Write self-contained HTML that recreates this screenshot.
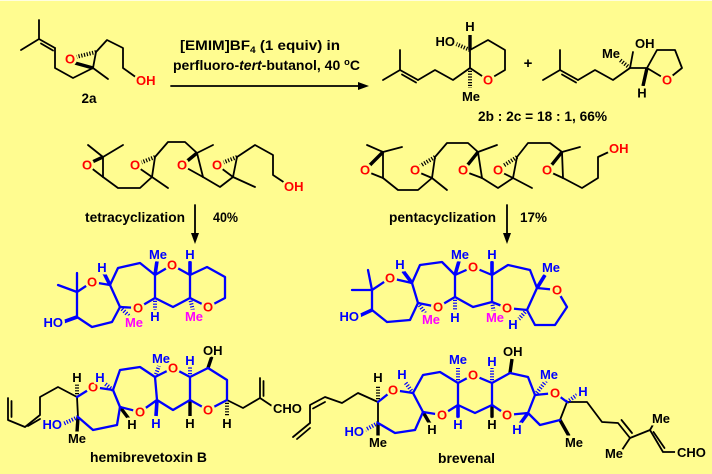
<!DOCTYPE html>
<html>
<head>
<meta charset="utf-8">
<style>
html,body{margin:0;padding:0;background:#fffc90;}
svg{display:block;}
.t{font-family:"Liberation Sans",Arial,sans-serif;font-weight:bold;}
.l{font-family:"Liberation Sans",Arial,sans-serif;font-weight:bold;font-size:13px;paint-order:stroke;stroke:#fffc90;stroke-width:5px;stroke-linejoin:round;text-anchor:middle;}
.r{fill:#ff0000;}
.b{fill:#0000ff;}
.k{fill:#000;}
.m{fill:#ff00ff;}
</style>
</head>
<body>
<svg width="712" height="474" viewBox="0 0 712 474" xmlns="http://www.w3.org/2000/svg">
<rect width="712" height="474" fill="#fffc90"/>
<rect width="712" height="1" fill="#fffee0"/>

<!-- ================= BLACK BONDS ================= -->
<g stroke="#000" stroke-width="1.8" fill="none" stroke-linecap="round" stroke-linejoin="round">
  <!-- 2a -->
  <polyline points="39,20 39,39 21,50"/>
  <line x1="39" y1="39" x2="55" y2="48"/>
  <line x1="41" y1="43.5" x2="53" y2="50.5"/>
  <polyline points="55,48 55,68 73,78 93,68 108,79"/>
  <line x1="93" y1="68" x2="96" y2="52"/>
  <polyline points="96,52 107,40 123,48 123,68 137,78"/>
  <line x1="74" y1="62" x2="93" y2="68"/>
  <!-- arrow -->
  <line x1="171" y1="86" x2="360" y2="86"/>
  <!-- 2b -->
  <polyline points="383,80 400,70 400,50"/>
  <line x1="400" y1="70" x2="418" y2="80"/>
  <line x1="402" y1="74.5" x2="416" y2="82.5"/>
  <polyline points="418,80 435,70 453,80 470,68"/>
  <polyline points="470,68 470,50 488,40 505,50 505,70 488,80 470,68"/>
  <!-- 2c -->
  <polyline points="543,80 560,70 560,50"/>
  <line x1="560" y1="70" x2="578" y2="80"/>
  <line x1="562" y1="74.5" x2="576" y2="82.5"/>
  <polyline points="578,80 595,70 613,80 630,68 647,68"/>
  <line x1="630" y1="68" x2="633" y2="52"/>
  <polyline points="647,68 657,50 675,50 682,68 667,80 647,68"/>
  <!-- tetra substrate -->
  <polyline points="88,145 103,157 123,145"/>
  <line x1="103" y1="157" x2="103" y2="177"/>
  <line x1="90" y1="167" x2="103" y2="177"/>
  <polyline points="103,177 118,188 140,188 152,177 168,188"/>
  <line x1="152" y1="177" x2="155" y2="157"/>
  <line x1="139" y1="168" x2="152" y2="177"/>
  <polyline points="155,157 168,142 185,142 197,153 213,145"/>
  <line x1="197" y1="153" x2="203" y2="177"/>
  <line x1="185" y1="167" x2="203" y2="177"/>
  <polyline points="203,177 220,187 233,177 255,187"/>
  <line x1="233" y1="177" x2="237" y2="157"/>
  <line x1="221" y1="168" x2="233" y2="177"/>
  <polyline points="237,157 255,145 273,155 273,175 285,183"/>
  <line x1="195" y1="205" x2="195" y2="236"/>
  <!-- penta substrate -->
  <polyline points="367,145 383,152 402,147"/>
  <line x1="383" y1="152" x2="383" y2="178"/>
  <line x1="368" y1="172" x2="383" y2="178"/>
  <polyline points="383,178 398,190 418,190 432,178 447,190"/>
  <line x1="432" y1="178" x2="435" y2="157"/>
  <line x1="418" y1="172" x2="432" y2="178"/>
  <polyline points="435,157 447,143 468,143 478,152 497,145"/>
  <line x1="478" y1="152" x2="482" y2="178"/>
  <line x1="466" y1="172" x2="482" y2="178"/>
  <polyline points="482,178 498,188 513,178 532,188"/>
  <line x1="513" y1="178" x2="517" y2="157"/>
  <line x1="501" y1="172" x2="513" y2="178"/>
  <polyline points="517,157 528,143 550,143 562,152 580,147"/>
  <line x1="562" y1="152" x2="563" y2="178"/>
  <line x1="550" y1="172" x2="563" y2="178"/>
  <polyline points="563,178 582,188 598,178 598,157 613,150"/>
  <line x1="507" y1="205" x2="507" y2="236"/>
  <!-- hemibrevetoxin side chains -->
  <polyline points="8,398 8,420 25,427 40,415 40,397 58,387 77,397"/>
  <line x1="11.5" y1="401" x2="11.5" y2="417"/>
  <line x1="28" y1="426" x2="40" y2="419"/>
  <line x1="78" y1="417" x2="77" y2="397"/>
  <polyline points="227,400 243,408 260,398 272,406"/>
  <line x1="260" y1="398" x2="260" y2="378"/>
  <line x1="263.5" y1="381" x2="263.5" y2="396"/>
  <!-- brevenal side chains -->
  <line x1="293" y1="437" x2="310" y2="423"/>
  <line x1="297" y1="439" x2="310" y2="428"/>
  <polyline points="310,423 310,405 325,397 342,403 358,393 378,402"/>
  <line x1="313" y1="408.5" x2="325" y2="402"/>
  <line x1="378" y1="402" x2="378" y2="423"/>
  <line x1="567" y1="402" x2="560" y2="420"/>
  <polyline points="567,402 587,402 602,422 618,423 630,438 650,430 663,452 675,452"/>
  <line x1="621.5" y1="420" x2="632" y2="433"/>
  <line x1="653.5" y1="432" x2="664.5" y2="448"/>
  <line x1="630" y1="438" x2="622" y2="450"/>
  <line x1="650" y1="430" x2="654" y2="423"/>
</g>

<!-- arrowheads -->
<g fill="#000">
  <polygon points="369,86 358,82 358,90"/>
  <polygon points="195,244 191,233 199,233"/>
  <polygon points="507,244 503,233 511,233"/>
</g>

<!-- black wedges (thick) -->
<g stroke="#000" stroke-width="3.4" stroke-linecap="butt" fill="none">
  <line x1="75" y1="63" x2="93" y2="68"/>
  <line x1="470" y1="50" x2="470" y2="35"/>
  <line x1="647" y1="68" x2="643" y2="86"/>
  <line x1="90" y1="163" x2="103" y2="157"/>
  <line x1="186" y1="162" x2="197" y2="153"/>
  <line x1="368" y1="167" x2="383" y2="152"/>
  <line x1="466" y1="167" x2="478" y2="152"/>
  <line x1="550" y1="167" x2="562" y2="152"/>
  <!-- hemibrevetoxin -->
  <line x1="208" y1="368" x2="212" y2="356"/>
  <line x1="190" y1="400" x2="190" y2="416"/>
  <line x1="120" y1="407" x2="129" y2="419"/>
  <line x1="78" y1="417" x2="77" y2="432"/>
  <!-- brevenal -->
  <line x1="510" y1="373" x2="512" y2="359"/>
  <line x1="492" y1="405" x2="492" y2="420"/>
  <line x1="423" y1="412" x2="430" y2="424"/>
  <line x1="378" y1="423" x2="378" y2="437"/>
  <line x1="560" y1="420" x2="569" y2="436"/>
</g>

<!-- black hashes -->
<g stroke="#000" stroke-width="4" stroke-dasharray="1.2 1.6" fill="none">
  <line x1="96" y1="52" x2="76" y2="57"/>
  <line x1="470" y1="50" x2="456" y2="44"/>
  <line x1="470" y1="68" x2="470" y2="88"/>
  <line x1="630" y1="68" x2="620" y2="60"/>
  <line x1="155" y1="157" x2="140" y2="163"/>
  <line x1="237" y1="157" x2="222" y2="163"/>
  <line x1="435" y1="157" x2="420" y2="166"/>
  <line x1="517" y1="157" x2="503" y2="166"/>
  <line x1="77" y1="397" x2="77" y2="384"/>
  <line x1="227" y1="400" x2="227" y2="416"/>
  <line x1="378" y1="402" x2="378" y2="386"/>
</g>

<!-- ================= BLUE BONDS ================= -->
<g stroke="#0000ff" stroke-width="2.3" fill="none" stroke-linecap="round" stroke-linejoin="round">
  <!-- tetracyclic product -->
  <line x1="77" y1="292" x2="77" y2="273"/>
  <line x1="77" y1="292" x2="58" y2="285"/>
  <polyline points="77,317 77,292 92,282 110,285 118,268 140,263 155,275 172,265 190,275 207,267 225,277 225,298 208,307 190,298 173,307 155,298 138,308 120,307 112,322 92,327 77,317"/>
  <line x1="190" y1="298" x2="190" y2="275"/>
  <line x1="155" y1="298" x2="155" y2="275"/>
  <line x1="120" y1="307" x2="110" y2="285"/>
  <!-- pentacyclic product -->
  <line x1="372" y1="290" x2="368" y2="270"/>
  <line x1="372" y1="290" x2="352" y2="290"/>
  <polyline points="372,310 372,290 390,278 412,283 420,265 442,262 455,275 473,267 492,275 508,265 530,270 537,288 557,290 567,307 555,325 535,325 527,310 507,308 492,302 473,307 455,297 438,307 418,303 410,320 387,322 372,310"/>
  <line x1="527" y1="310" x2="537" y2="288"/>
  <line x1="492" y1="302" x2="492" y2="275"/>
  <line x1="455" y1="297" x2="455" y2="275"/>
  <line x1="418" y1="303" x2="412" y2="283"/>
  <!-- hemibrevetoxin rings -->
  <polyline points="77,397 93,387 113,390 120,370 140,367 155,377 173,368 190,377 208,368 227,380 227,400 208,410 190,400 173,410 157,400 140,412 120,407 117,425 93,430 78,417"/>
  <line x1="113" y1="390" x2="120" y2="407"/>
  <line x1="155" y1="377" x2="157" y2="400"/>
  <line x1="190" y1="377" x2="190" y2="400"/>
  <!-- brevenal rings -->
  <polyline points="378,402 393,390 413,393 423,375 440,372 458,383 473,375 492,383 510,373 528,377 535,395 555,393 567,402"/>
  <polyline points="560,420 540,425 528,413 507,415 492,405 475,413 458,405 442,415 423,412 415,430 395,433 378,423"/>
  <line x1="528" y1="413" x2="535" y2="395"/>
  <line x1="492" y1="405" x2="492" y2="383"/>
  <line x1="458" y1="405" x2="458" y2="383"/>
  <line x1="423" y1="412" x2="413" y2="393"/>
</g>

<!-- blue wedges -->
<g stroke="#0000ff" stroke-width="3.6" stroke-linecap="butt" fill="none">
  <line x1="110" y1="285" x2="104" y2="273"/>
  <line x1="155" y1="275" x2="157" y2="261"/>
  <line x1="190" y1="275" x2="190" y2="261"/>
  <line x1="77" y1="317" x2="63" y2="322"/>
  <line x1="412" y1="283" x2="403" y2="271"/>
  <line x1="455" y1="275" x2="459" y2="261"/>
  <line x1="492" y1="275" x2="492" y2="261"/>
  <line x1="537" y1="288" x2="545" y2="275"/>
  <line x1="372" y1="310" x2="359" y2="316"/>
  <line x1="157" y1="400" x2="156" y2="416"/>
  <line x1="528" y1="413" x2="520" y2="424"/>
  <line x1="458" y1="405" x2="458" y2="420"/>
</g>

<!-- blue hashes -->
<g stroke="#0000ff" stroke-width="4" stroke-dasharray="1.2 1.6" fill="none">
  <line x1="190" y1="298" x2="193" y2="311"/>
  <line x1="155" y1="298" x2="155" y2="312"/>
  <line x1="120" y1="307" x2="130" y2="317"/>
  <line x1="527" y1="310" x2="518" y2="320"/>
  <line x1="492" y1="302" x2="494" y2="313"/>
  <line x1="455" y1="297" x2="455" y2="312"/>
  <line x1="418" y1="303" x2="427" y2="316"/>
  <line x1="113" y1="390" x2="103" y2="382"/>
  <line x1="155" y1="377" x2="159" y2="366"/>
  <line x1="190" y1="377" x2="190" y2="366"/>
  <line x1="78" y1="417" x2="63" y2="424"/>
  <line x1="413" y1="393" x2="405" y2="382"/>
  <line x1="458" y1="383" x2="458" y2="368"/>
  <line x1="492" y1="383" x2="492" y2="368"/>
  <line x1="535" y1="395" x2="546" y2="381"/>
  <line x1="567" y1="402" x2="577" y2="395"/>
  <line x1="378" y1="423" x2="363" y2="431"/>
</g>

<!-- ================= LABELS ================= -->
<!-- 2a -->
<text class="l r" x="70" y="63.5">O</text>
<text class="l r" x="136" y="85" style="text-anchor:start">OH</text>
<text class="t" x="89" y="103" font-size="13.5" text-anchor="middle">2a</text>

<!-- reagents -->
<text class="t" x="260" y="50" font-size="13.5" text-anchor="middle" textLength="160" lengthAdjust="spacingAndGlyphs">[EMIM]BF<tspan font-size="9" dy="3">4</tspan><tspan dy="-3"> (1 equiv) in</tspan></text>
<text class="t" x="266.5" y="70" font-size="13.5" text-anchor="middle" textLength="187" lengthAdjust="spacingAndGlyphs">perfluoro-<tspan font-style="italic">tert</tspan>-butanol, 40 <tspan font-size="9" dy="-5">o</tspan><tspan dy="5">C</tspan></text>

<!-- 2b -->
<text class="l k" x="470" y="31">H</text>
<text class="l k" x="455" y="46" style="text-anchor:end">HO</text>
<text class="l k" x="471" y="101">Me</text>
<text class="l r" x="488" y="84.5">O</text>
<text class="t" x="528" y="68" font-size="15" text-anchor="middle">+</text>
<!-- 2c -->
<text class="l k" x="611" y="58">Me</text>
<text class="l k" x="635" y="48" style="text-anchor:start">OH</text>
<text class="l r" x="667" y="84.5">O</text>
<text class="l k" x="642" y="97.5">H</text>
<text class="t" x="542.5" y="121" font-size="13.5" text-anchor="middle" textLength="129" lengthAdjust="spacingAndGlyphs">2b : 2c = 18 : 1, 66%</text>

<!-- tetra substrate -->
<text class="l r" x="87" y="169.5">O</text>
<text class="l r" x="135" y="169.5">O</text>
<text class="l r" x="182" y="169.5">O</text>
<text class="l r" x="217" y="169.5">O</text>
<text class="l r" x="284" y="191" style="text-anchor:start">OH</text>
<text class="t" x="85" y="222" font-size="13.5" textLength="100" lengthAdjust="spacingAndGlyphs">tetracyclization</text>
<text class="t" x="213" y="222" font-size="13.5" textLength="25" lengthAdjust="spacingAndGlyphs">40%</text>

<!-- penta substrate -->
<text class="l r" x="365" y="174.5">O</text>
<text class="l r" x="415" y="174.5">O</text>
<text class="l r" x="463" y="174.5">O</text>
<text class="l r" x="498" y="174.5">O</text>
<text class="l r" x="547" y="174.5">O</text>
<text class="l r" x="609" y="153" style="text-anchor:start">OH</text>
<text class="t" x="389" y="222" font-size="13.5" textLength="107" lengthAdjust="spacingAndGlyphs">pentacyclization</text>
<text class="t" x="520" y="222" font-size="13.5" textLength="27" lengthAdjust="spacingAndGlyphs">17%</text>

<!-- tetracyclic product -->
<text class="l r" x="92" y="286.5">O</text>
<text class="l r" x="172" y="269.5">O</text>
<text class="l r" x="208" y="311.5">O</text>
<text class="l r" x="138" y="312.5">O</text>
<text class="l b" x="102" y="272">H</text>
<text class="l b" x="158" y="259">Me</text>
<text class="l b" x="190" y="259">H</text>
<text class="l m" x="194" y="321">Me</text>
<text class="l b" x="155" y="321">H</text>
<text class="l m" x="134" y="327">Me</text>
<text class="l b" x="63" y="327" style="text-anchor:end">HO</text>

<!-- pentacyclic product -->
<text class="l r" x="390" y="282.5">O</text>
<text class="l r" x="473" y="271.5">O</text>
<text class="l r" x="557" y="294.5">O</text>
<text class="l r" x="507" y="312.5">O</text>
<text class="l r" x="438" y="311.5">O</text>
<text class="l b" x="400" y="269">H</text>
<text class="l b" x="460" y="259">Me</text>
<text class="l b" x="492" y="259">H</text>
<text class="l b" x="551" y="272">Me</text>
<text class="l b" x="513" y="329">H</text>
<text class="l m" x="495" y="322">Me</text>
<text class="l b" x="455" y="322">H</text>
<text class="l m" x="431" y="324">Me</text>
<text class="l b" x="359" y="321" style="text-anchor:end">HO</text>

<!-- hemibrevetoxin B -->
<text class="l r" x="93" y="391.5">O</text>
<text class="l r" x="173" y="372.5">O</text>
<text class="l r" x="208" y="414.5">O</text>
<text class="l r" x="140" y="416.5">O</text>
<text class="l k" x="77" y="382">H</text>
<text class="l b" x="100" y="382">H</text>
<text class="l b" x="161" y="363">Me</text>
<text class="l b" x="190" y="365">H</text>
<text class="l k" x="203" y="355" style="text-anchor:start">OH</text>
<text class="l k" x="227" y="428">H</text>
<text class="l k" x="190" y="428">H</text>
<text class="l b" x="156" y="428">H</text>
<text class="l k" x="132" y="429">H</text>
<text class="l b" x="62" y="429" style="text-anchor:end">HO</text>
<text class="l k" x="77" y="443">Me</text>
<text class="l k" x="273" y="413" style="text-anchor:start">CHO</text>
<text class="t" x="90" y="462" font-size="13.5" textLength="117" lengthAdjust="spacingAndGlyphs">hemibrevetoxin B</text>

<!-- brevenal -->
<text class="l r" x="393" y="394.5">O</text>
<text class="l r" x="473" y="379.5">O</text>
<text class="l r" x="555" y="397.5">O</text>
<text class="l r" x="507" y="419.5">O</text>
<text class="l r" x="442" y="419.5">O</text>
<text class="l k" x="378" y="382">H</text>
<text class="l b" x="402" y="379">H</text>
<text class="l b" x="458" y="364">Me</text>
<text class="l b" x="492" y="366">H</text>
<text class="l k" x="503" y="356" style="text-anchor:start">OH</text>
<text class="l b" x="549" y="379">Me</text>
<text class="l b" x="583" y="396">H</text>
<text class="l k" x="574" y="447">Me</text>
<text class="l b" x="517" y="434">H</text>
<text class="l k" x="492" y="429">H</text>
<text class="l b" x="458" y="429">H</text>
<text class="l k" x="432" y="434">H</text>
<text class="l b" x="364" y="436" style="text-anchor:end">HO</text>
<text class="l k" x="378" y="447">Me</text>
<text class="l k" x="614" y="458">Me</text>
<text class="l k" x="661" y="423">Me</text>
<text class="l k" x="677" y="457" style="text-anchor:start">CHO</text>
<text class="t" x="438" y="463" font-size="13.5" textLength="57" lengthAdjust="spacingAndGlyphs">brevenal</text>
</svg>
</body>
</html>
